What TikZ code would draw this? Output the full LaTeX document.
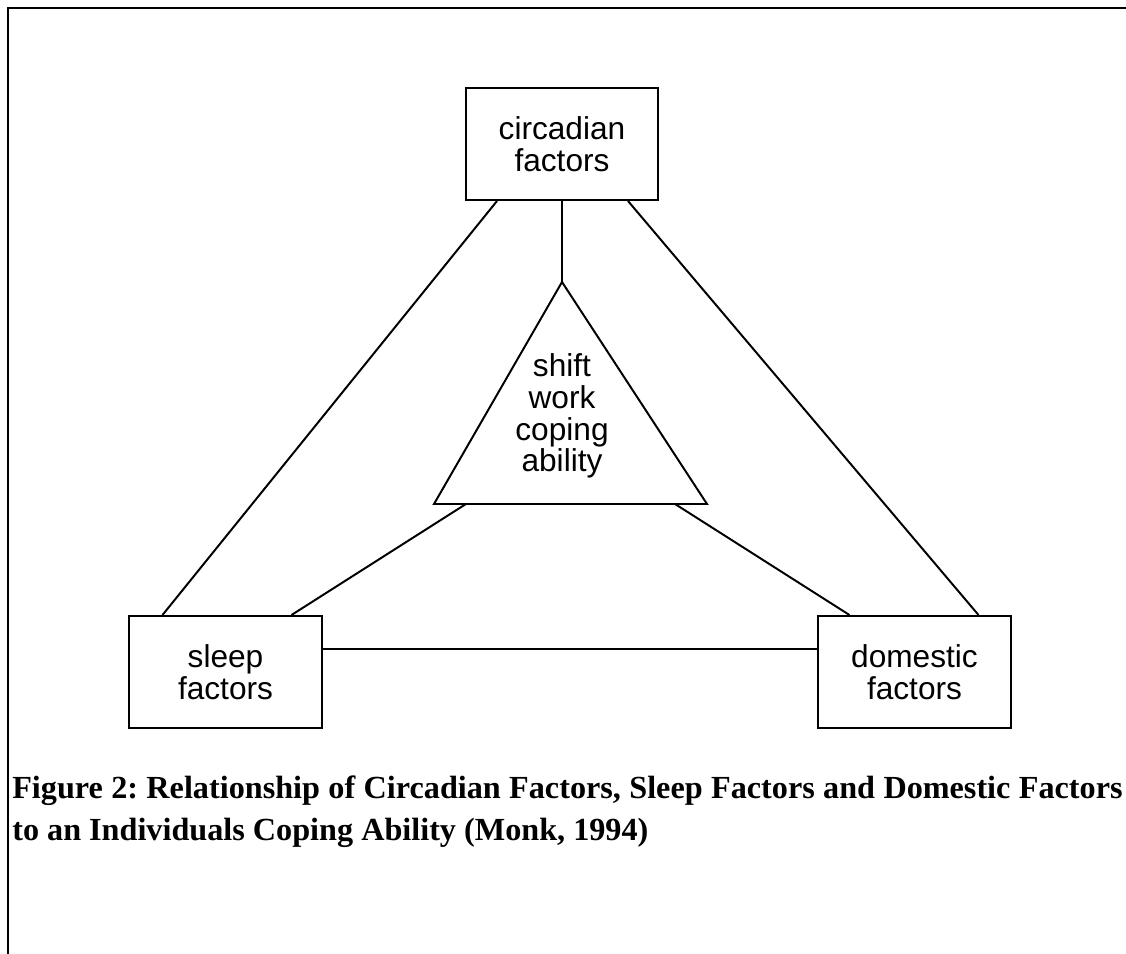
\documentclass[tikz,border=0pt]{standalone}
\usepackage{fontspec}
\setmainfont{Liberation Serif}
\newfontfamily\boxfont{Liberation Sans}
\usetikzlibrary{positioning,calc}
\tikzset{
  link/.style={line width=1.4pt, line join=miter},
  factor/.style={draw, line width=1.4pt, minimum width=4.8cm, minimum height=2.8cm,
    align=center, font=\boxfont\fontsize{22.5}{22.5}\selectfont},
  boxtext/.style={align=center, inner sep=0pt, font=\boxfont\fontsize{22.5}{22.5}\selectfont},
  captext/.style={anchor=base west, inner sep=0pt, text width=27.75cm, align=justify,
    font=\bfseries\fontsize{22.9}{29.9}\selectfont\frenchspacing}
}

\begin{document}
\begin{tikzpicture}[x=0.025cm, y=-0.025cm]
\useasboundingbox (0,0) rectangle (1126,954);
% page frame
\draw[line width=1.6pt] (8,954) -- (8,8) -- (1126,8);

% the three factor boxes
\node[factor] (circ) at (562,144) {circadian\\factors};
\node[factor] (sleep) at (225.5,672) {sleep\\factors};
\node[factor] (dom) at (914.5,672) {domestic\\factors};

% central triangle
\coordinate (apex) at (562,282);
\coordinate (baseL) at (434,504);
\coordinate (baseR) at (707,504);
\draw[link] (apex) -- (baseL) -- (baseR) -- cycle;
\node[boxtext] (cope) at (562,416) {shift\\work\\coping\\ability};

% links
\draw[link] (circ.south) -- (apex);
\draw[link] ($(circ.south west)+(32,0)$) -- ($(sleep.north west)+(34,0)$);
\draw[link] ($(circ.south east)+(-31,0)$) -- ($(dom.north east)+(-33,0)$);
\draw[link] ($(baseL)!0.117!(baseR)$) -- ($(sleep.north east)+(-31,0)$);
\draw[link] ($(baseR)!0.117!(baseL)$) -- ($(dom.north west)+(32,0)$);
\draw[link] ($(sleep.east)+(0,-23)$) -- ($(dom.west)+(0,-23)$);

% caption
\node[captext] (cap) at (12,798) {Figure 2: Relationship of Circadian Factors, Sleep Factors and Domestic Factors\linebreak to an Individuals Coping Ability (Monk, 1994)};
\end{tikzpicture}
\end{document}
